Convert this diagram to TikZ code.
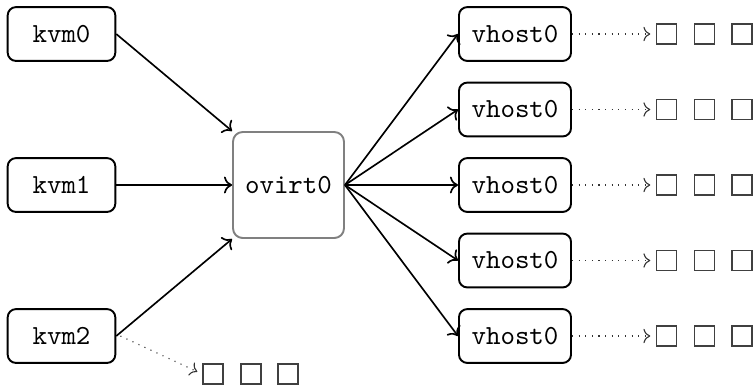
\documentclass[tikz,border=0pt]{standalone}
\usetikzlibrary{arrows.meta}
\begin{document}
\begin{tikzpicture}[x=0.3623pt,y=-0.3623pt,
  box/.style={draw,rounded corners=3pt,line width=0.7pt,font=\ttfamily,inner sep=0pt,
    minimum width=39pt,minimum height=19.5pt},
  hub/.style={draw=black!50,rounded corners=3.5pt,line width=0.7pt,font=\ttfamily,inner sep=0pt,
    minimum width=40.2pt,minimum height=38.4pt},
  slot/.style={draw=black!75,inner sep=0pt,minimum size=7.3pt,line width=0.45pt},
  link/.style={->,semithick},
  queue/.style={->,dotted,thin,black!80,shorten >=2pt}]
\useasboundingbox (0,0) rectangle (754,385);
% guests on the left
\node[box] (k0) at (61.5,34) {kvm0};
\node[box] (k1) at (61.5,185) {kvm1};
\node[box] (k2) at (61.5,336) {kvm2};
% central switch
\node[hub] (ov) at (288.5,185) {ovirt0};
% backends on the right, each with its queue slots
\foreach \i/\y in {0/34,1/109.5,2/185,3/260.5,4/336}{
  \node[box,minimum width=40.6pt] (v\i) at (515,\y) {vhost0};
  \node[slot] (a\i) at (666.5,\y) {};
  \node[slot] (b\i) at (704.5,\y) {};
  \node[slot] (c\i) at (742,\y) {};
  \draw[link] (ov.east) -- (v\i.west);
  \draw[queue] (v\i.east) -- (a\i.west);
}
\draw[link] (k0.east) -- (ov.north west);
\draw[link] (k1.east) -- (ov.west);
\draw[link] (k2.east) -- (ov.south west);
% queue slots below kvm2
\node[slot] (s0) at (213,374) {};
\node[slot] (s1) at (251,374) {};
\node[slot] (s2) at (288,374) {};
\draw[queue] ([xshift=1.5pt]k2.east) -- (s0.west);
\end{tikzpicture}
\end{document}
